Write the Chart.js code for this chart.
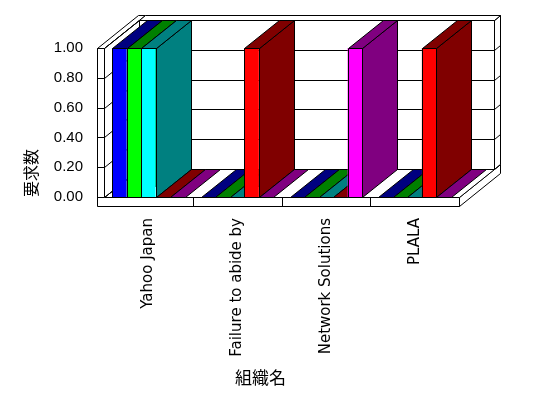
<!DOCTYPE html>
<html lang="ja">
<head>
<meta charset="utf-8">
<title>組織名別 要求数</title>
<script src="https://cdn.jsdelivr.net/npm/chart.js@4"></script>
<style>
  html, body { margin: 0; padding: 0; background: #fff; }
</style>
</head>
<body>
<canvas id="c" width="548" height="398"></canvas>
<script>
// データ
const categories = ['Yahoo Japan', 'Failure to abide by', 'Network Solutions', 'PLALA'];
const seriesNames = ['系列1', '系列2', '系列3', '系列4', '系列5'];
const series1 = [1, 0, 0, 0];
const series2 = [1, 0, 0, 0];
const series3 = [1, 0, 0, 0];
const series4 = [0, 1, 0, 1];
const series5 = [0, 0, 1, 0];
const yMin = 0, yMax = 1, yStep = 0.2;

// 前面色と、天面・側面用の暗い色
const frontColors = ['#0000FF', '#00FF00', '#00FFFF', '#FF0000', '#FF00FF'];
const darkColors = ['#000080', '#008000', '#008080', '#800000', '#800080'];

// 3D 風の奥行き（Excel 風）
const DX = 35, DY = -28;   // 奥行き
const SX = 6, SY = -5;     // 奥の壁の厚み
const WALL = 7;            // 左壁の厚み
const FLOOR = 9;           // 床の厚み

const snap = (v) => Math.round(v) + 0.5;

function poly(ctx, pts, fill) {
  ctx.beginPath();
  ctx.moveTo(snap(pts[0][0]), snap(pts[0][1]));
  for (let i = 1; i < pts.length; i++) ctx.lineTo(snap(pts[i][0]), snap(pts[i][1]));
  ctx.closePath();
  if (fill) { ctx.fillStyle = fill; ctx.fill(); }
  ctx.stroke();
}
function line(ctx, x1, y1, x2, y2) {
  ctx.beginPath();
  ctx.moveTo(snap(x1), snap(y1));
  ctx.lineTo(snap(x2), snap(y2));
  ctx.stroke();
}
function allBars(chart) {
  const bars = [];
  chart.data.datasets.forEach((ds, i) => {
    chart.getDatasetMeta(i).data.forEach((el) => bars.push({ el, i }));
  });
  return bars.sort((p, q) => p.el.x - q.el.x);
}

const box3d = {
  id: 'box3d',
  beforeDatasetsDraw(chart) {
    const { ctx, chartArea: a, scales: { x, y } } = chart;
    const L = a.left, R = a.right;
    const T = y.getPixelForValue(yMax), B = y.getPixelForValue(yMin);
    const ticks = y.ticks.map((t) => y.getPixelForValue(t.value));
    ctx.save();
    ctx.strokeStyle = '#000';
    ctx.lineWidth = 1;

    // 床の右側面・奥の壁の右側面・天面
    poly(ctx, [[R, B], [R + DX + SX, B + DY + SY], [R + DX + SX, B + DY + SY + FLOOR], [R, B + FLOOR]], '#fff');
    poly(ctx, [[R + DX, T + DY], [R + DX + SX, T + DY + SY], [R + DX + SX, B + DY + SY], [R + DX, B + DY]], '#fff');
    ticks.forEach((py) => line(ctx, R + DX, py + DY, R + DX + SX, py + DY + SY));
    poly(ctx, [[L - WALL, T], [L, T], [L + DX + SX, T + DY + SY], [L - WALL + DX + SX, T + DY + SY]], '#fff');
    poly(ctx, [[L + DX, T + DY], [R + DX, T + DY], [R + DX + SX, T + DY + SY], [L + DX + SX, T + DY + SY]], '#fff');

    // 床
    poly(ctx, [[L, B], [R, B], [R + DX, B + DY], [L + DX, B + DY]], '#fff');
    // 奥の壁 + 目盛線
    poly(ctx, [[L + DX, T + DY], [R + DX, T + DY], [R + DX, B + DY], [L + DX, B + DY]], '#fff');
    ticks.forEach((py) => line(ctx, L + DX, py + DY, R + DX, py + DY));
    // 左の側壁 + 目盛線
    poly(ctx, [[L, B], [L + DX, B + DY], [L + DX, T + DY], [L, T]], '#fff');
    ticks.forEach((py) => line(ctx, L, py, L + DX, py + DY));
    // 左壁と床の前面
    poly(ctx, [[L - WALL, T], [L, T], [L, B], [R, B], [R, B + FLOOR], [L - WALL, B + FLOOR]], '#fff');
    ticks.forEach((py) => line(ctx, L - WALL, py, L, py));
    const half = (x.getPixelForValue(1) - x.getPixelForValue(0)) / 2;
    for (let i = 1; i < categories.length; i++) {
      const bx = x.getPixelForValue(i) - half;
      line(ctx, bx, B, bx, B + FLOOR);
    }

    // 棒の側面と天面（左から順に）
    for (const { el, i } of allBars(chart)) {
      const l = el.x - el.width / 2, r = el.x + el.width / 2, t = el.y, b = el.base;
      if (b - t > 0.5) poly(ctx, [[r, b], [r + DX, b + DY], [r + DX, t + DY], [r, t]], darkColors[i]);
      poly(ctx, [[l, t], [r, t], [r + DX, t + DY], [l + DX, t + DY]], darkColors[i]);
    }
    ctx.restore();
  },
  afterDatasetsDraw(chart) {
    // 前面の輪郭をくっきり
    const { ctx } = chart;
    ctx.save();
    ctx.strokeStyle = '#000';
    ctx.lineWidth = 1;
    for (const { el } of allBars(chart)) {
      if (el.base - el.y < 0.5) continue;
      const l = el.x - el.width / 2, r = el.x + el.width / 2;
      poly(ctx, [[l, el.y], [r, el.y], [r, el.base], [l, el.base]]);
    }
    ctx.restore();
  },
  afterDraw(chart) {
    // 横軸タイトル
    const { ctx, chartArea: a } = chart;
    ctx.save();
    ctx.fillStyle = '#000';
    ctx.font = '17px "Noto Sans CJK JP"';
    ctx.textAlign = 'center';
    ctx.textBaseline = 'middle';
    ctx.fillText('組織名', (a.left + a.right) / 2 - 21, a.bottom + 181);
    ctx.restore();
  },
};

const seriesValues = [series1, series2, series3, series4, series5];

new Chart(document.getElementById('c'), {
  type: 'bar',
  data: {
    labels: categories,
    datasets: seriesValues.map((vals, i) => ({
      label: seriesNames[i],
      data: vals,
      backgroundColor: frontColors[i],
      borderWidth: 0,
      categoryPercentage: 0.817,
      barPercentage: 1,
    })),
  },
  options: {
    responsive: false,
    animation: false,
    layout: { padding: { left: 21, top: 48, right: 89, bottom: 0 } },
    plugins: { legend: { display: false }, tooltip: { enabled: false } },
    scales: {
      x: {
        grid: { display: false, drawTicks: false },
        border: { display: false },
        ticks: {
          autoSkip: false, minRotation: 90, maxRotation: 90, padding: 21,
          color: '#000', font: { family: 'DejaVu Sans', size: 15 },
        },
        afterFit: (s) => { s.height = 201; },
      },
      y: {
        min: yMin, max: yMax,
        grid: { display: false, drawTicks: false },
        border: { display: false },
        ticks: {
          stepSize: yStep, padding: 21, color: '#000',
          font: { family: 'Liberation Sans', size: 15 },
          callback: (v) => Number(v).toFixed(2),
        },
        title: {
          display: true, text: '要求数', align: 'start', color: '#000',
          padding: 0, font: { family: 'Noto Sans CJK JP', size: 16 },
        },
        afterFit: (s) => { s.width = 83; },
      },
    },
  },
  plugins: [box3d],
});
</script>
</body>
</html>
